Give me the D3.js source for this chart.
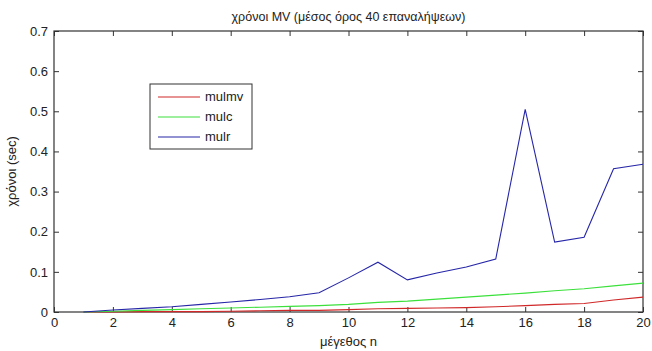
<!DOCTYPE html>
<html>
<head>
<meta charset="utf-8">
<script src="https://cdn.jsdelivr.net/npm/d3@7"></script>
<style>
  body { margin: 0; background: #fff; }
  text { font-family: "Liberation Sans", Arial, sans-serif; fill: #222; }
</style>
</head>
<body>
<script>
// data
const sizes = d3.range(1, 21);
const mulmv = [0, 0, 0.001, 0.001, 0.001, 0.002, 0.003, 0.004, 0.004, 0.006,
               0.008, 0.009, 0.010, 0.011, 0.013, 0.016, 0.019, 0.021, 0.030, 0.037];
const mulc  = [0, 0.002, 0.004, 0.006, 0.008, 0.010, 0.012, 0.014, 0.016, 0.019,
               0.024, 0.027, 0.032, 0.037, 0.042, 0.047, 0.053, 0.058, 0.065, 0.072];
const mulr  = [0, 0.005, 0.009, 0.013, 0.019, 0.025, 0.031, 0.038, 0.048, 0.085,
               0.124, 0.080, 0.097, 0.112, 0.132, 0.505, 0.174, 0.186, 0.357, 0.368];
const xTicks = d3.range(0, 21, 2);
const yTicks = [0, 0.1, 0.2, 0.3, 0.4, 0.5, 0.6, 0.7];
const seriesNames = ["mulmv", "mulc", "mulr"];
const seriesColors = ["#d02828", "#3ce03c", "#2626a8"];

const W = 652, H = 351;
const m = { left: 54, right: 9, top: 31, bottom: 39 };
const iw = W - m.left - m.right, ih = H - m.top - m.bottom;

const svg = d3.select("body").append("svg").attr("width", W).attr("height", H);
const g = svg.append("g").attr("transform", `translate(${m.left},${m.top})`);

const x = d3.scaleLinear().domain([0, 20]).range([0, iw]);
const y = d3.scaleLinear().domain([0, 0.7]).range([ih, 0]);

// axes, ticks pointing inward like matlab
const fmtY = d => d === 0 ? "0" : d3.format(".1f")(d);
g.append("g").attr("transform", `translate(0,${ih})`)
  .call(d3.axisBottom(x).tickValues(xTicks).tickSizeInner(-5).tickSizeOuter(0).tickPadding(6))
  .call(a => a.selectAll("text").attr("font-size", 13));
g.append("g")
  .call(d3.axisTop(x).tickValues(xTicks).tickSizeInner(-5).tickSizeOuter(0).tickFormat(""));
g.append("g")
  .call(d3.axisLeft(y).tickValues(yTicks).tickSizeInner(-5).tickSizeOuter(0).tickPadding(6).tickFormat(fmtY))
  .call(a => a.selectAll("text").attr("font-size", 13));
g.append("g").attr("transform", `translate(${iw},0)`)
  .call(d3.axisRight(y).tickValues(yTicks).tickSizeInner(-5).tickSizeOuter(0).tickFormat(""));
g.selectAll(".domain").remove();
g.selectAll(".tick line").attr("stroke", "#333");
g.append("rect").attr("width", iw).attr("height", ih)
  .attr("fill", "none").attr("stroke", "#333").attr("stroke-width", 1.2);

// lines
const line = d3.line().x((d, i) => x(sizes[i])).y(d => y(d));
[mulmv, mulc, mulr].forEach((s, k) => {
  g.append("path").datum(s).attr("d", line)
    .attr("fill", "none").attr("stroke", seriesColors[k]).attr("stroke-width", 1.1);
});

// legend
const leg = svg.append("g").attr("transform", "translate(150,84)");
leg.append("rect").attr("width", 102).attr("height", 65)
  .attr("fill", "#fff").attr("stroke", "#333").attr("stroke-width", 1);
seriesNames.forEach((n, k) => {
  const yy = 13 + k * 20;
  leg.append("line").attr("x1", 8).attr("x2", 50).attr("y1", yy).attr("y2", yy)
    .attr("stroke", seriesColors[k]).attr("stroke-width", 1.1);
  leg.append("text").attr("x", 55).attr("y", yy + 4).attr("font-size", 13).text(n);
});

// titles
svg.append("text").attr("x", m.left + iw / 2).attr("y", 21).attr("text-anchor", "middle")
  .attr("font-size", 12.5).text("χρόνοι MV (μέσος όρος 40 επαναλήψεων)");
svg.append("text").attr("x", m.left + iw / 2).attr("y", 346).attr("text-anchor", "middle")
  .attr("font-size", 13).text("μέγεθος n");
svg.append("text").attr("transform", `translate(16,${m.top + ih / 2}) rotate(-90)`)
  .attr("text-anchor", "middle").attr("font-size", 13).text("χρόνοι (sec)");
</script>
</body>
</html>
